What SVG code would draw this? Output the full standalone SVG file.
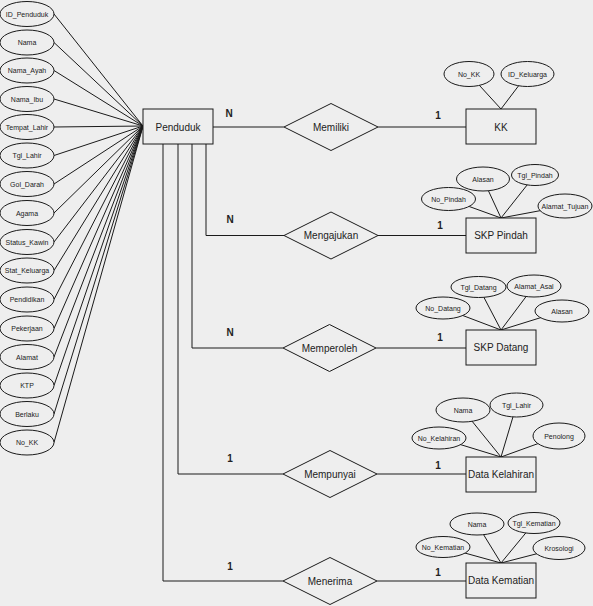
<svg xmlns="http://www.w3.org/2000/svg" width="593" height="606" viewBox="0 0 593 606">
<style>
.bg{fill:#eeeeee}
.ln{stroke:#1a1a1a;stroke-width:1;fill:none}
.sh{fill:#eeeeee;stroke:#1a1a1a;stroke-width:1}
.at{font-family:"Liberation Sans",Arial,sans-serif;font-size:7px;fill:#222;text-anchor:middle}
.en{font-family:"Liberation Sans",Arial,sans-serif;font-size:10px;fill:#222;text-anchor:middle}
.cd{font-family:"Liberation Sans",Arial,sans-serif;font-size:10px;font-weight:bold;fill:#222;text-anchor:middle}
</style>
<rect class="bg" x="0" y="0" width="593" height="606"/>
<g id="connectors">
<!-- Penduduk attributes -->
<line class="ln" x1="54" y1="14" x2="143" y2="126"/>
<line class="ln" x1="54" y1="42.5" x2="143" y2="126"/>
<line class="ln" x1="54" y1="70.5" x2="143" y2="126"/>
<line class="ln" x1="54" y1="99" x2="143" y2="126"/>
<line class="ln" x1="54" y1="127" x2="143" y2="126"/>
<line class="ln" x1="54" y1="155.5" x2="143" y2="126"/>
<line class="ln" x1="54" y1="184" x2="143" y2="126"/>
<line class="ln" x1="54" y1="213" x2="143" y2="126"/>
<line class="ln" x1="54" y1="242" x2="143" y2="126"/>
<line class="ln" x1="54" y1="270.5" x2="143" y2="126"/>
<line class="ln" x1="54" y1="299.5" x2="143" y2="126"/>
<line class="ln" x1="54" y1="328.5" x2="143" y2="126"/>
<line class="ln" x1="54" y1="357" x2="143" y2="126"/>
<line class="ln" x1="54" y1="385.5" x2="143" y2="126"/>
<line class="ln" x1="54" y1="414" x2="143" y2="126"/>
<line class="ln" x1="54" y1="442.5" x2="143" y2="126"/>
<!-- relationships -->
<line class="ln" x1="213" y1="127" x2="284" y2="127"/>
<line class="ln" x1="378" y1="127" x2="466" y2="127"/>
<polyline class="ln" points="206,144 206,235.5 284,235.5"/>
<line class="ln" x1="378" y1="235.5" x2="466" y2="235.5"/>
<polyline class="ln" points="192,144 192,348 283,348"/>
<line class="ln" x1="376" y1="348" x2="466" y2="348"/>
<polyline class="ln" points="178,144 178,474 283,474"/>
<line class="ln" x1="377" y1="474" x2="466" y2="474"/>
<polyline class="ln" points="163,144 163,581 283,581"/>
<line class="ln" x1="377" y1="581" x2="466" y2="581"/>
<!-- KK attributes -->
<line class="ln" x1="469" y1="74" x2="501" y2="109"/>
<line class="ln" x1="527.5" y1="74" x2="501" y2="109"/>
<!-- SKP Pindah attributes -->
<line class="ln" x1="448.5" y1="199" x2="501" y2="218"/>
<line class="ln" x1="483" y1="179" x2="501" y2="218"/>
<line class="ln" x1="535" y1="175" x2="501" y2="218"/>
<line class="ln" x1="565" y1="206" x2="501" y2="218"/>
<!-- SKP Datang attributes -->
<line class="ln" x1="443" y1="308" x2="501" y2="330"/>
<line class="ln" x1="478.5" y1="287" x2="501" y2="330"/>
<line class="ln" x1="534" y1="286" x2="501" y2="330"/>
<line class="ln" x1="562" y1="311" x2="501" y2="330"/>
<!-- Data Kelahiran attributes -->
<line class="ln" x1="439" y1="438" x2="501" y2="457"/>
<line class="ln" x1="463" y1="410" x2="501" y2="457"/>
<line class="ln" x1="516.5" y1="405" x2="501" y2="457"/>
<line class="ln" x1="559" y1="436" x2="501" y2="457"/>
<!-- Data Kematian attributes -->
<line class="ln" x1="443" y1="547" x2="501" y2="563"/>
<line class="ln" x1="477" y1="524" x2="501" y2="563"/>
<line class="ln" x1="534" y1="523" x2="501" y2="563"/>
<line class="ln" x1="559" y1="548" x2="501" y2="563"/>
<!-- cardinalities -->
<text class="cd" x="229" y="117">N</text>
<text class="cd" x="438" y="119">1</text>
<text class="cd" x="230" y="223">N</text>
<text class="cd" x="440" y="229">1</text>
<text class="cd" x="230" y="336">N</text>
<text class="cd" x="440" y="341">1</text>
<text class="cd" x="230" y="462">1</text>
<text class="cd" x="438" y="469">1</text>
<text class="cd" x="230" y="570">1</text>
<text class="cd" x="438" y="576">1</text>
</g>
<g id="attr-penduduk">
<g id="a-id_penduduk"><ellipse class="sh" cx="27" cy="14" rx="27" ry="12.5"/><text class="at" x="27" y="16.5">ID_Penduduk</text></g>
<g id="a-nama"><ellipse class="sh" cx="27" cy="42.5" rx="27" ry="12.5"/><text class="at" x="27" y="45">Nama</text></g>
<g id="a-nama_ayah"><ellipse class="sh" cx="27" cy="70.5" rx="27" ry="12.5"/><text class="at" x="27" y="73">Nama_Ayah</text></g>
<g id="a-nama_ibu"><ellipse class="sh" cx="27" cy="99" rx="27" ry="12.5"/><text class="at" x="27" y="101.5">Nama_Ibu</text></g>
<g id="a-tempat_lahir"><ellipse class="sh" cx="27" cy="127" rx="27" ry="12.5"/><text class="at" x="27" y="129.5">Tempat_Lahir</text></g>
<g id="a-tgl_lahir"><ellipse class="sh" cx="27" cy="155.5" rx="27" ry="12.5"/><text class="at" x="27" y="158">Tgl_Lahir</text></g>
<g id="a-gol_darah"><ellipse class="sh" cx="27" cy="184" rx="27" ry="12.5"/><text class="at" x="27" y="186.5">Gol_Darah</text></g>
<g id="a-agama"><ellipse class="sh" cx="27" cy="213" rx="27" ry="12.5"/><text class="at" x="27" y="215.5">Agama</text></g>
<g id="a-status_kawin"><ellipse class="sh" cx="27" cy="242" rx="27" ry="12.5"/><text class="at" x="27" y="244.5">Status_Kawin</text></g>
<g id="a-stat_keluarga"><ellipse class="sh" cx="27" cy="270.5" rx="27" ry="12.5"/><text class="at" x="27" y="273">Stat_Keluarga</text></g>
<g id="a-pendidikan"><ellipse class="sh" cx="27" cy="299.5" rx="27" ry="12.5"/><text class="at" x="27" y="302">Pendidikan</text></g>
<g id="a-pekerjaan"><ellipse class="sh" cx="27" cy="328.5" rx="27" ry="12.5"/><text class="at" x="27" y="331">Pekerjaan</text></g>
<g id="a-alamat"><ellipse class="sh" cx="27" cy="357" rx="27" ry="12.5"/><text class="at" x="27" y="359.5">Alamat</text></g>
<g id="a-ktp"><ellipse class="sh" cx="27" cy="385.5" rx="27" ry="12.5"/><text class="at" x="27" y="388">KTP</text></g>
<g id="a-berlaku"><ellipse class="sh" cx="27" cy="414" rx="27" ry="12.5"/><text class="at" x="27" y="416.5">Berlaku</text></g>
<g id="a-no_kk"><ellipse class="sh" cx="27" cy="442.5" rx="27" ry="12.5"/><text class="at" x="27" y="445">No_KK</text></g>
</g>
<g id="penduduk"><rect class="sh" x="143" y="109" width="70" height="35"/><text class="en" x="178" y="130.5">Penduduk</text></g>
<g id="memiliki"><polygon class="sh" points="284,127 331,103.5 378,127 331,150.5"/><text class="en" x="331" y="130.5">Memiliki</text></g>
<g id="mengajukan"><polygon class="sh" points="284,235.5 331,212 378,235.5 331,259"/><text class="en" x="331" y="239">Mengajukan</text></g>
<g id="memperoleh"><polygon class="sh" points="283,348 329.5,324.5 376,348 329.5,371.5"/><text class="en" x="329.5" y="351.5">Memperoleh</text></g>
<g id="mempunyai"><polygon class="sh" points="283,474 330,450.5 377,474 330,497.5"/><text class="en" x="330" y="477.5">Mempunyai</text></g>
<g id="menerima"><polygon class="sh" points="283,581 330,557.5 377,581 330,604.5"/><text class="en" x="330" y="584.5">Menerima</text></g>
<g id="kk"><rect class="sh" x="466" y="109" width="70" height="35"/><text class="en" x="501" y="130.5">KK</text>
<g id="a-kk-no_kk"><ellipse class="sh" cx="469" cy="74" rx="25" ry="12.5"/><text class="at" x="469" y="76.5">No_KK</text></g>
<g id="a-kk-id_keluarga"><ellipse class="sh" cx="527.5" cy="74" rx="26.5" ry="12.5"/><text class="at" x="527.5" y="76.5">ID_Keluarga</text></g>
</g>
<g id="skp-pindah"><rect class="sh" x="466" y="218" width="70" height="35"/><text class="en" x="501" y="239">SKP Pindah</text>
<g id="a-no_pindah"><ellipse class="sh" cx="448.5" cy="199" rx="27" ry="11.5"/><text class="at" x="448.5" y="201.5">No_Pindah</text></g>
<g id="a-alasan-p"><ellipse class="sh" cx="483" cy="179" rx="26.5" ry="12"/><text class="at" x="483" y="181.5">Alasan</text></g>
<g id="a-tgl_pindah"><ellipse class="sh" cx="535" cy="175" rx="23.5" ry="10.5"/><text class="at" x="535" y="177.5">Tgl_Pindah</text></g>
<g id="a-alamat_tujuan"><ellipse class="sh" cx="565" cy="206" rx="27" ry="12"/><text class="at" x="565" y="208.5">Alamat_Tujuan</text></g>
</g>
<g id="skp-datang"><rect class="sh" x="466" y="330" width="70" height="35"/><text class="en" x="501" y="351">SKP Datang</text>
<g id="a-no_datang"><ellipse class="sh" cx="443" cy="308" rx="27" ry="11"/><text class="at" x="443" y="310.5">No_Datang</text></g>
<g id="a-tgl_datang"><ellipse class="sh" cx="478.5" cy="287" rx="27.5" ry="10.5"/><text class="at" x="478.5" y="289.5">Tgl_Datang</text></g>
<g id="a-alamat_asal"><ellipse class="sh" cx="534" cy="286" rx="27" ry="11"/><text class="at" x="534" y="288.5">Alamat_Asal</text></g>
<g id="a-alasan-d"><ellipse class="sh" cx="562" cy="311" rx="27" ry="11"/><text class="at" x="562" y="313.5">Alasan</text></g>
</g>
<g id="data-kelahiran"><rect class="sh" x="466" y="457" width="70" height="35"/><text class="en" x="501" y="478">Data Kelahiran</text>
<g id="a-no_kelahiran"><ellipse class="sh" cx="439" cy="438" rx="27" ry="11"/><text class="at" x="439" y="440.5">No_Kelahiran</text></g>
<g id="a-nama-k"><ellipse class="sh" cx="463" cy="410" rx="27" ry="12"/><text class="at" x="463" y="412.5">Nama</text></g>
<g id="a-tgl_lahir-k"><ellipse class="sh" cx="516.5" cy="405" rx="26.5" ry="12"/><text class="at" x="516.5" y="407.5">Tgl_Lahir</text></g>
<g id="a-penolong"><ellipse class="sh" cx="559" cy="436" rx="26" ry="13"/><text class="at" x="559" y="438.5">Penolong</text></g>
</g>
<g id="data-kematian"><rect class="sh" x="466" y="563" width="70" height="35"/><text class="en" x="501" y="584">Data Kematian</text>
<g id="a-no_kematian"><ellipse class="sh" cx="443" cy="547" rx="27" ry="10.5"/><text class="at" x="443" y="549.5">No_Kematian</text></g>
<g id="a-nama-m"><ellipse class="sh" cx="477" cy="524" rx="27" ry="11"/><text class="at" x="477" y="526.5">Nama</text></g>
<g id="a-tgl_kematian"><ellipse class="sh" cx="534" cy="523" rx="26" ry="10.5"/><text class="at" x="534" y="525.5">Tgl_Kematian</text></g>
<g id="a-krosologi"><ellipse class="sh" cx="559" cy="548" rx="26" ry="11.5"/><text class="at" x="559" y="550.5">Krosologi</text></g>
</g>
</svg>
